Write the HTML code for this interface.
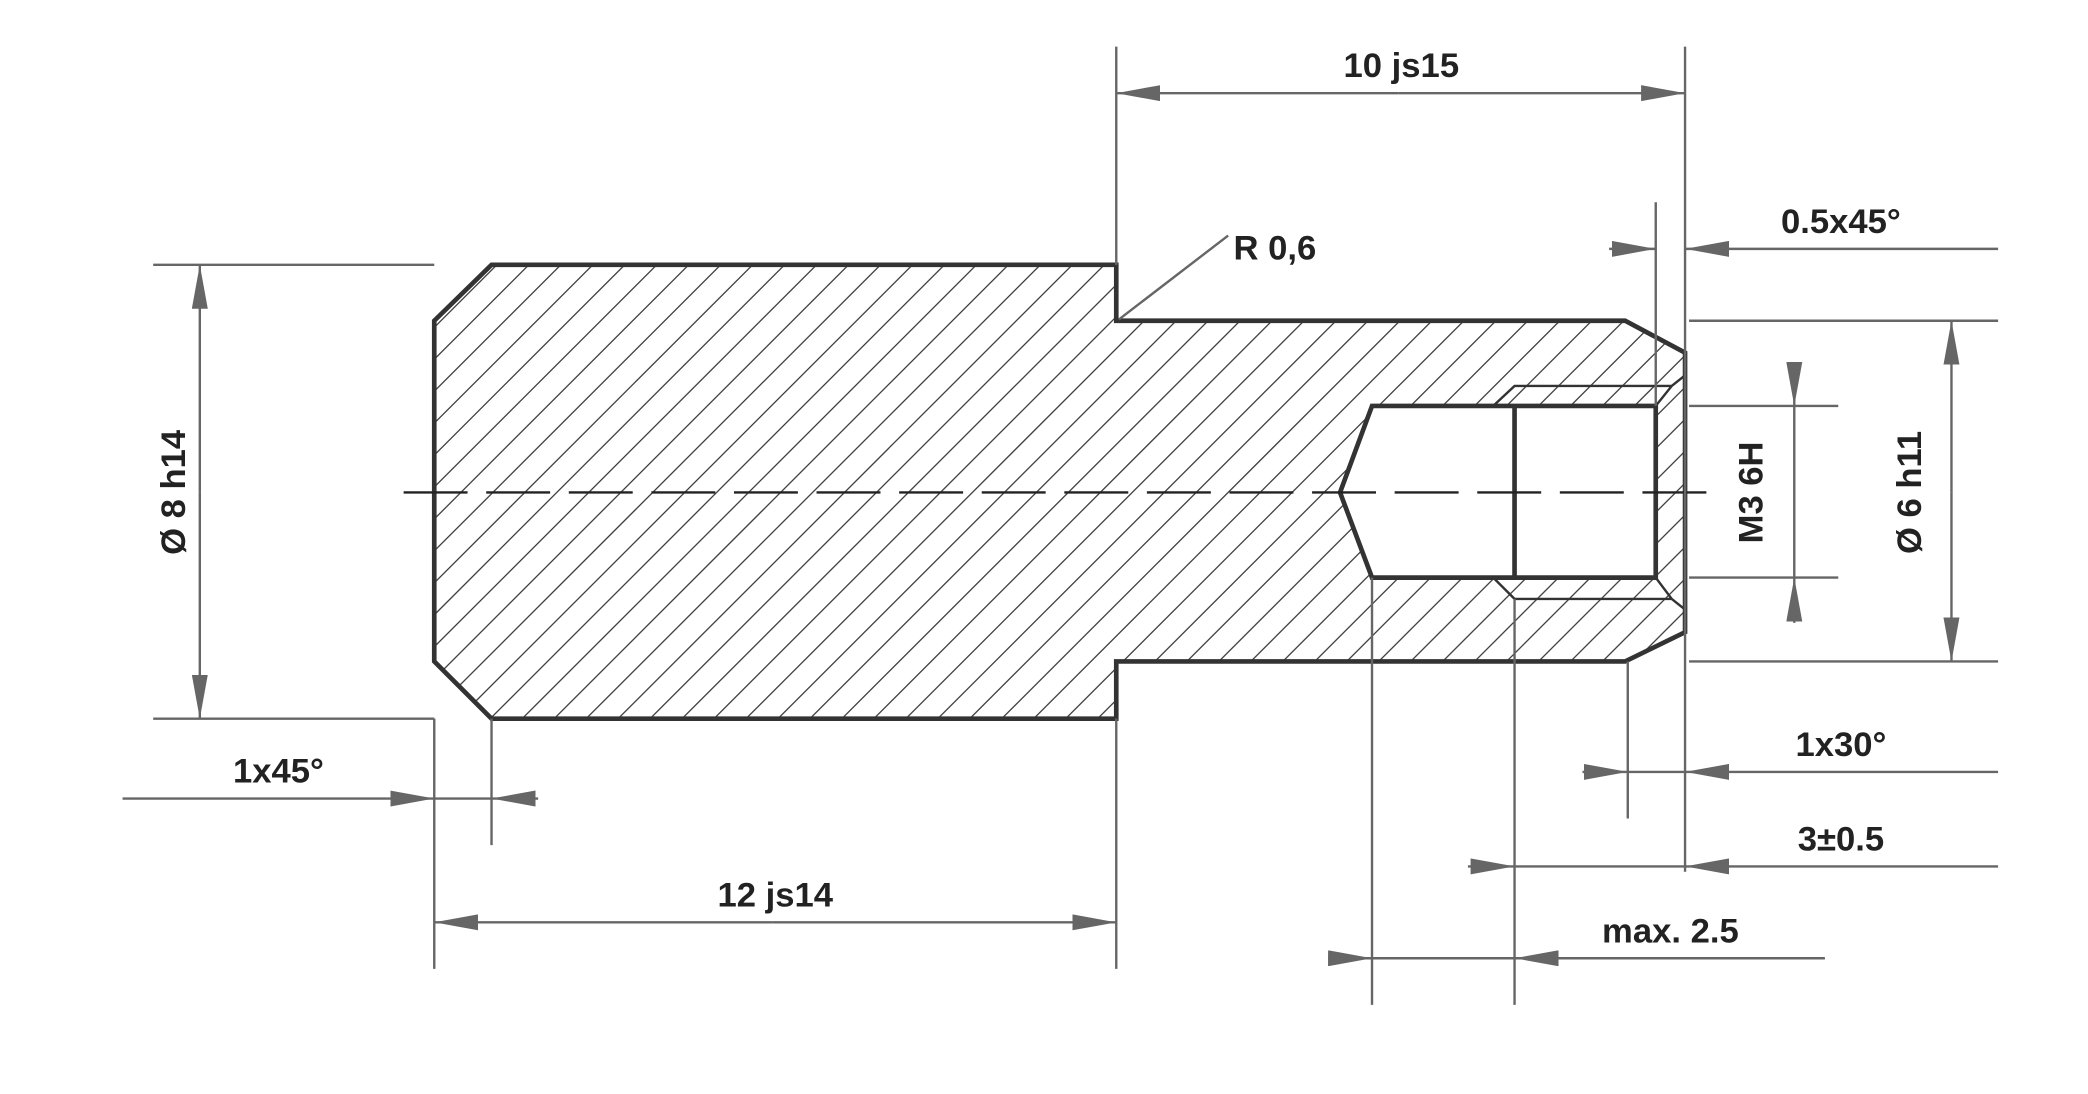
<!DOCTYPE html>
<html><head><meta charset="utf-8"><style>html,body{margin:0;padding:0;background:#fff;overflow:hidden;width:2088px;height:1094px}svg{display:block}</style></head><body>
<svg width="2088" height="1094" viewBox="0 0 1567.5 822" preserveAspectRatio="none" xmlns="http://www.w3.org/2000/svg">
<defs>
<marker id="a" viewBox="0 0 33 12" refX="33" refY="6" markerWidth="33" markerHeight="12" markerUnits="userSpaceOnUse" orient="auto"><path d="M0,0 L33,6 L0,12 Z" fill="#666"/></marker>
<clipPath id="body"><path clip-rule="evenodd" d="M326,241 L369,199 L838,199 L838,241 L1220,241 L1265,265 L1265,475 L1220,497 L838,497 L838,540 L369,540 L326,497 Z M1006,370 L1030,305 L1243,305 L1243,434 L1030,434 Z"/></clipPath>
</defs>
<g clip-path="url(#body)" stroke="#444" stroke-width="1">
<path d="M20,1000 L1020,0 M44,1000 L1044,0 M68,1000 L1068,0 M92,1000 L1092,0 M116,1000 L1116,0 M140,1000 L1140,0 M164,1000 L1164,0 M188,1000 L1188,0 M212,1000 L1212,0 M236,1000 L1236,0 M260,1000 L1260,0 M284,1000 L1284,0 M308,1000 L1308,0 M332,1000 L1332,0 M356,1000 L1356,0 M380,1000 L1380,0 M404,1000 L1404,0 M428,1000 L1428,0 M452,1000 L1452,0 M476,1000 L1476,0 M500,1000 L1500,0 M524,1000 L1524,0 M548,1000 L1548,0 M572,1000 L1572,0 M596,1000 L1596,0 M620,1000 L1620,0 M644,1000 L1644,0 M668,1000 L1668,0 M692,1000 L1692,0 M716,1000 L1716,0 M740,1000 L1740,0 M764,1000 L1764,0 M788,1000 L1788,0 M812,1000 L1812,0 M836,1000 L1836,0 M860,1000 L1860,0 M884,1000 L1884,0 M908,1000 L1908,0 M932,1000 L1932,0 M956,1000 L1956,0 M980,1000 L1980,0 M1004,1000 L2004,0 M1028,1000 L2028,0 M1052,1000 L2052,0 M1076,1000 L2076,0 M1100,1000 L2100,0 M1124,1000 L2124,0 M1148,1000 L2148,0 M1172,1000 L2172,0 M1196,1000 L2196,0 M1220,1000 L2220,0 M1244,1000 L2244,0 M1268,1000 L2268,0 M1292,1000 L2292,0 M1316,1000 L2316,0 M1340,1000 L2340,0 M1364,1000 L2364,0 M1388,1000 L2388,0 M1412,1000 L2412,0 M1436,1000 L2436,0 M1460,1000 L2460,0 M1484,1000 L2484,0 M1508,1000 L2508,0 M1532,1000 L2532,0 M1556,1000 L2556,0 M1580,1000 L2580,0 M1604,1000 L2604,0 M1628,1000 L2628,0 M1652,1000 L2652,0 M1676,1000 L2676,0 M1700,1000 L2700,0 M1724,1000 L2724,0 M1748,1000 L2748,0 M1772,1000 L2772,0 M1796,1000 L2796,0 M1820,1000 L2820,0 M1844,1000 L2844,0 M1868,1000 L2868,0 M1892,1000 L2892,0 M1916,1000 L2916,0 M1940,1000 L2940,0 M1964,1000 L2964,0 M1988,1000 L2988,0 M2012,1000 L3012,0 M2036,1000 L3036,0 M2060,1000 L3060,0 M2084,1000 L3084,0 M2108,1000 L3108,0 M2132,1000 L3132,0 M2156,1000 L3156,0 M2180,1000 L3180,0 M2204,1000 L3204,0 M2228,1000 L3228,0 M2252,1000 L3252,0 M2276,1000 L3276,0" transform="translate(-1000,0)"/>
</g>
<g fill="none" stroke="#333" stroke-width="3.5" stroke-linejoin="miter">
<path d="M326,241 L369,199 L838,199 L838,241 L1220,241 L1265,265 L1265,475 L1220,497 L838,497 L838,540 L369,540 L326,497 Z"/>
<path d="M1006,370 L1030,305 L1243,305 L1243,434 L1030,434 Z"/>
<path d="M1137,305 L1137,434"/>
</g>
<g fill="none" stroke="#333" stroke-width="1.8">
<path d="M1121,305 L1137,290 L1255,290 L1243,305 M1255,290 L1265,282"/>
<path d="M1121,434 L1137,450 L1255,450 L1243,434 M1255,450 L1265,458"/>
</g>
<path d="M303,370 L1290,370" stroke="#222" stroke-width="1.8" stroke-dasharray="48,14"/>
<g stroke="#666" stroke-width="1.8" fill="none">
<path d="M115,199 L326,199 M115,540 L326,540"/>
<path d="M838,35 L838,199 M1265,35 L1265,655 M1243,152 L1243,305"/>
<path d="M1268,241 L1500,241 M1268,497 L1500,497 M1268,305 L1380,305 M1268,434 L1380,434"/>
<path d="M1222,497 L1222,615 M1030,434 L1030,755 M1137,450 L1137,755"/>
<path d="M326,540 L326,728 M838,540 L838,728 M369,540 L369,635"/>
<path d="M840,240 L922,177"/>
<path d="M150,370 L150,199" marker-end="url(#a)"/><path d="M150,370 L150,540" marker-end="url(#a)"/>
<path d="M1050,70 L838,70" marker-end="url(#a)"/><path d="M1050,70 L1265,70" marker-end="url(#a)"/>
<path d="M1465,370 L1465,241" marker-end="url(#a)"/><path d="M1465,370 L1465,497" marker-end="url(#a)"/>
<path d="M1347,272 L1347,305" marker-end="url(#a)"/><path d="M1347,468 L1347,434" marker-end="url(#a)"/><path d="M1347,305 L1347,434"/>
<path d="M580,693 L326,693" marker-end="url(#a)"/><path d="M580,693 L838,693" marker-end="url(#a)"/>
<path d="M1208,187 L1243,187" marker-end="url(#a)"/><path d="M1500,187 L1265,187" marker-end="url(#a)"/>
<path d="M1188,580 L1222,580" marker-end="url(#a)"/><path d="M1500,580 L1265,580" marker-end="url(#a)"/><path d="M1222,580 L1265,580"/>
<path d="M1102,651 L1137,651" marker-end="url(#a)"/><path d="M1500,651 L1265,651" marker-end="url(#a)"/><path d="M1137,651 L1265,651"/>
<path d="M997,720 L1030,720" marker-end="url(#a)"/><path d="M1370,720 L1137,720" marker-end="url(#a)"/><path d="M1030,720 L1137,720"/>
<path d="M92,600 L326,600" marker-end="url(#a)"/><path d="M404,600 L369,600" marker-end="url(#a)"/><path d="M326,600 L369,600"/>
</g>
<g font-family="Liberation Sans, sans-serif" font-weight="bold" font-size="26" fill="#222">
<text x="1052" y="58" text-anchor="middle">10 js15</text>
<text x="926" y="195">R 0,6</text>
<text x="1382" y="175" text-anchor="middle">0.5x45°</text>
<text x="1382" y="568" text-anchor="middle">1x30°</text>
<text x="1382" y="639" text-anchor="middle">3±0.5</text>
<text x="1254" y="708" text-anchor="middle">max. 2.5</text>
<text x="582" y="681" text-anchor="middle">12 js14</text>
<text x="209" y="588" text-anchor="middle">1x45°</text>
<text transform="translate(139,370) rotate(-90)" text-anchor="middle">Ø 8 h14</text>
<text transform="translate(1442,370) rotate(-90)" text-anchor="middle">Ø 6 h11</text>
<text transform="translate(1323,370) rotate(-90)" text-anchor="middle">M3 6H</text>
</g>
</svg>
</body></html>
